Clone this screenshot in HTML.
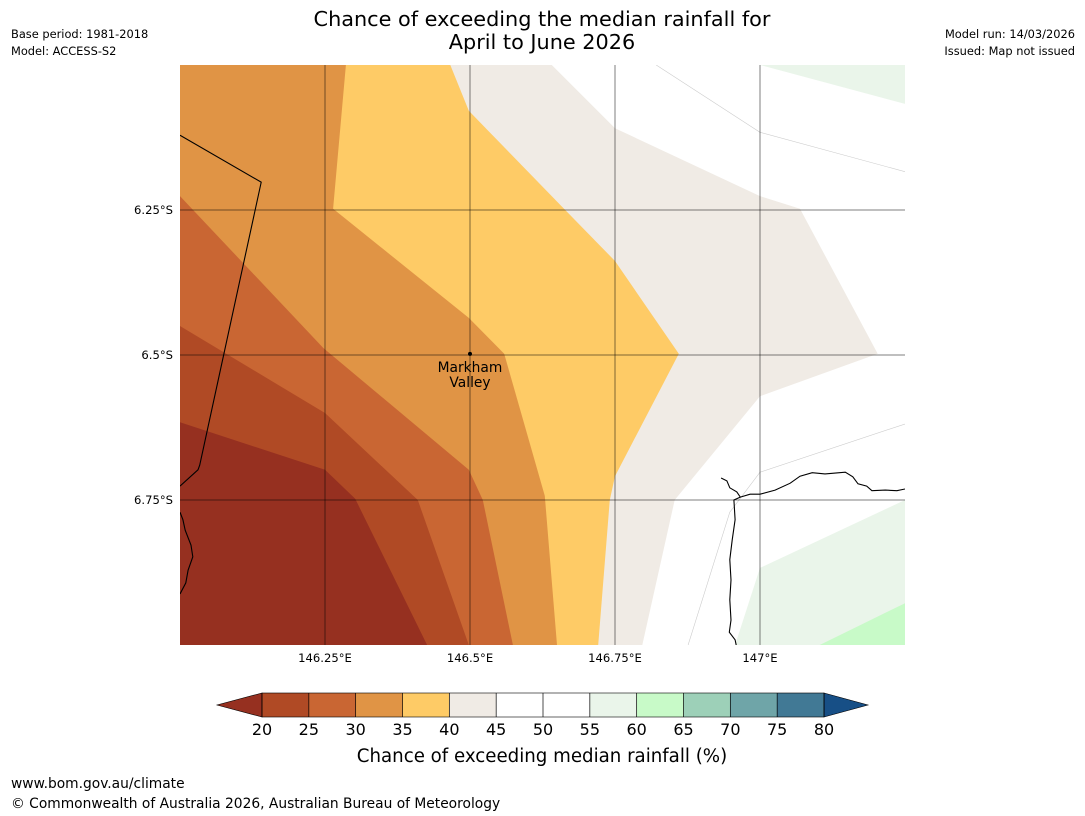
<!DOCTYPE html>
<html><head><meta charset="utf-8"><style>
body{margin:0;background:#fff;}
svg{display:block;font-family:"DejaVu Sans","Liberation Sans",sans-serif;}
</style></head><body>
<svg id="s" width="1085" height="816" viewBox="0 0 1085 816">
<text x="542" y="26" text-anchor="middle" font-size="20.8">Chance of exceeding the median rainfall for</text>
<text x="542" y="49" text-anchor="middle" font-size="20.8">April to June 2026</text>
<text x="11" y="38" font-size="11.4">Base period: 1981-2018</text>
<text x="11" y="55" font-size="11.4">Model: ACCESS-S2</text>
<text x="1075" y="38" font-size="11.4" text-anchor="end">Model run: 14/03/2026</text>
<text x="1075" y="55" font-size="11.4" text-anchor="end">Issued: Map not issued</text>
<g id="map"></g>
<g id="cb"></g>
<text x="542" y="762" text-anchor="middle" font-size="18.2">Chance of exceeding median rainfall (%)</text>
<text x="11" y="788" font-size="13.8">www.bom.gov.au/climate</text>
<text x="11" y="808" font-size="13.8">© Commonwealth of Australia 2026, Australian Bureau of Meteorology</text>
</svg>
<script>
// Map extent (lon E, lat S)
const lonRange=[146.0,147.25];
const latRange=[6.0,7.0];
const lonTicks=[146.25,146.5,146.75,147.0];
const lonTickLabels=["146.25°E","146.5°E","146.75°E","147°E"];
const latTicks=[6.25,6.5,6.75];
const latTickLabels=["6.25°S","6.5°S","6.75°S"];
// Contour boundaries [lon,lat]; region above/right of each boundary exceeds its level
const levels=[25,30,35,40,45];
const levelColors=["#b04a25","#c96633","#e09445","#fecb66","#f0ebe5","#ffffff"];
const baseColor="#963020";
const b25=[[146,6.616],[146.25,6.698],[146.302,6.748],[146.426,7]];
const b30=[[146,6.45],[146.25,6.6],[146.41,6.75],[146.498,7]];
const b35=[[146,6.226],[146.247,6.488],[146.498,6.698],[146.522,6.75],[146.574,7]];
const b40=[[146.286,6],[146.264,6.248],[146.498,6.436],[146.559,6.498],[146.629,6.743],[146.65,7]];
const b45=[[146.466,6],[146.498,6.079],[146.662,6.248],[146.75,6.338],[146.86,6.498],[146.75,6.709],[146.741,6.75],[146.721,7]];
const b50=[[146.641,6],[146.75,6.109],[147,6.226],[147.069,6.248],[147.203,6.498],[147,6.571],[146.853,6.75],[146.797,7]];
const green55a=[[147,6],[147.25,6.067],[147.25,6]];
const green55b=[[147.25,6.75],[147,6.867],[146.957,7],[147.25,7]];
const green60=[[147.25,6.928],[147.103,7],[147.25,7]];
const faint1=[[146.821,6],[147,6.116],[147.25,6.184]];
const faint2=[[147.25,6.619],[147,6.702],[146.948,6.771],[146.876,7]];
const border=[[146,6.121],[146.14,6.202],[146.034,6.69],[146.031,6.698],[146,6.726]];
const coastSW=[[146,6.771],[146.005,6.784],[146.009,6.802],[146.019,6.828],[146.022,6.848],[146.014,6.871],[146.01,6.893],[146,6.912]];
const coastE=[[146.933,6.712],[146.943,6.717],[146.948,6.729],[146.96,6.736],[146.966,6.745],[146.955,6.75],[146.957,6.784],[146.952,6.819],[146.948,6.853],[146.95,6.888],[146.948,6.922],[146.95,6.957],[146.947,6.978],[146.957,6.991],[146.959,7]];
const coastN=[[146.966,6.745],[146.983,6.74],[147,6.74],[147.026,6.733],[147.052,6.721],[147.069,6.709],[147.09,6.703],[147.112,6.705],[147.147,6.702],[147.16,6.71],[147.169,6.722],[147.184,6.726],[147.193,6.734],[147.216,6.733],[147.236,6.734],[147.25,6.731]];
const place=[146.5,6.498];
const cbLevels=[20,25,30,35,40,45,50,55,60,65,70,75,80];
const cbColors=["#b04a25","#c96633","#e09445","#fecb66","#f0ebe5","#ffffff","#ffffff","#eaf5ea","#c8fac8","#9dd0b8","#6fa5a8","#417995"];
const cbLow="#963020", cbHigh="#174f86";

const MX0=180,MX1=905,MY0=65,MY1=645;
const X=lon=>MX0+(lon-lonRange[0])/(lonRange[1]-lonRange[0])*(MX1-MX0);
const Y=lat=>MY0+(lat-latRange[0])/(latRange[1]-latRange[0])*(MY1-MY0);
const NS="http://www.w3.org/2000/svg";
const map=document.getElementById('map');
function mk(tag,attrs,parent){const e=document.createElementNS(NS,tag);for(const k in attrs)e.setAttribute(k,attrs[k]);parent.appendChild(e);return e;}
const pts=a=>a.map(p=>X(p[0]).toFixed(1)+","+Y(p[1]).toFixed(1)).join(" ");
const cp=mk('clipPath',{id:'mc'},map);mk('rect',{x:MX0,y:MY0,width:MX1-MX0,height:MY1-MY0},cp);
const g=mk('g',{'clip-path':'url(#mc)'},map);
const bg=mk('rect',{x:MX0,y:MY0,width:MX1-MX0,height:MY1-MY0,fill:baseColor},g);


const bounds=[b25,b30,b35,b40,b45,b50];
const corners=[[lonRange[1],latRange[1]],[lonRange[1],latRange[0]],[lonRange[0],latRange[0]]];
bounds.forEach((b,i)=>{
  const e=mk('polygon',{points:pts(b.concat(corners)),fill:levelColors[i]},g);
  
  
});
[[green55a,"#eaf5ea","band-55-60-north"],[green55b,"#eaf5ea","band-55-60-south"],[green60,"#c8fac8","band-60-65"]].forEach(([a,c,n])=>{
  const e=mk('polygon',{points:pts(a),fill:c},g);
  
  
});
[faint1,faint2].forEach((a,i)=>{
  const e=mk('polyline',{points:pts(a),fill:'none',stroke:'#ccc','stroke-width':0.6},g);
  
  
});
lonTicks.forEach((t,i)=>{
  const e=mk('line',{x1:X(t),x2:X(t),y1:MY0,y2:MY1,stroke:'#000','stroke-opacity':0.5,'stroke-width':1},g);
  
  
  const l=mk('text',{x:X(t),y:MY1+17,'text-anchor':'middle','font-size':11.6},map);l.textContent=lonTickLabels[i];
  
  
});
latTicks.forEach((t,i)=>{
  const e=mk('line',{x1:MX0,x2:MX1,y1:Y(t),y2:Y(t),stroke:'#000','stroke-opacity':0.5,'stroke-width':1},g);
  
  
  const l=mk('text',{x:MX0-7,y:Y(t)+4,'text-anchor':'end','font-size':11.6},map);l.textContent=latTickLabels[i];
  
  
});
[[border,'province-border'],[coastSW,'coastline-southwest'],[coastE,'coastline-east'],[coastN,'coastline-north']].forEach(([a,n])=>{
  const e=mk('polyline',{points:pts(a),fill:'none',stroke:'#000','stroke-width':1.1},g);
  
  
});
const dot=mk('circle',{cx:X(place[0]),cy:Y(place[1]),r:2,fill:'#000'},map);


const pl=mk('text',{x:X(place[0]),y:Y(place[1])+18,'text-anchor':'middle','font-size':13.8},map);


mk('tspan',{x:X(place[0]),dy:0},pl).textContent='Markham';
mk('tspan',{x:X(place[0]),dy:15},pl).textContent='Valley';

// colorbar
const cb=document.getElementById('cb');
const CX0=262,CX1=824,CY0=693,CY1=717;
const CX=v=>CX0+(v-cbLevels[0])/(cbLevels[cbLevels.length-1]-cbLevels[0])*(CX1-CX0);
const lt=mk('polygon',{points:`${CX0},${CY0} ${CX0},${CY1} 217,${(CY0+CY1)/2}`,fill:cbLow,stroke:'#000','stroke-width':0.6},cb);


const ht=mk('polygon',{points:`${CX1},${CY0} ${CX1},${CY1} 868,${(CY0+CY1)/2}`,fill:cbHigh,stroke:'#000','stroke-width':0.6},cb);


cbColors.forEach((c,i)=>{
  const e=mk('rect',{x:CX(cbLevels[i]),y:CY0,width:CX(cbLevels[i+1])-CX(cbLevels[i]),height:CY1-CY0,fill:c},cb);
  
  
});
cbLevels.forEach(v=>{
  const e=mk('line',{x1:CX(v),x2:CX(v),y1:CY0,y2:CY1,stroke:'#000','stroke-width':0.7},cb);
  
  
  const t=mk('text',{x:CX(v),y:735,'text-anchor':'middle','font-size':16},cb);t.textContent=v;
  
  
});
const fr=mk('rect',{x:CX0,y:CY0,width:CX1-CX0,height:CY1-CY0,fill:'none',stroke:'#000','stroke-width':0.6},cb);


</script>
</body></html>
